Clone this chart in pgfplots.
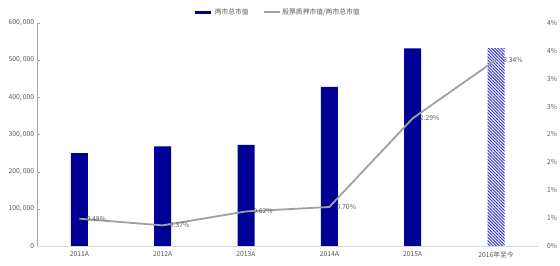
\documentclass[border=0pt]{standalone}
\usepackage{pgfplots}
\pgfplotsset{compat=1.18}
\usepackage{fontspec}
\setmainfont{Noto Sans CJK SC}
\usetikzlibrary{patterns.meta}
\definecolor{navy}{RGB}{0,0,150}
\definecolor{hatch}{RGB}{40,40,210}
\definecolor{lgrey}{RGB}{160,160,160}
\definecolor{txt}{RGB}{89,89,89}
\begin{document}
\begin{tikzpicture}
\pgfplotsset{every axis/.append style={scale only axis, width=500bp, height=223bp, xmin=-0.5, xmax=5.5,
  /pgf/number format/assume math mode=true,
  font=\fontsize{6.8}{7}\selectfont, tick label style={text=txt, font=\fontsize{6.8}{7}\selectfont}}}
\begin{axis}[
 ymin=0, ymax=600000, scaled y ticks=false,
 axis x line*=bottom, axis y line*=left,
 x axis line style={draw=gray!30, line width=0.8pt, -},
 y axis line style={draw=gray!70, -},
 xtick={0,...,5}, xticklabels={2011A,2012A,2013A,2014A,2015A,2016年至今},
 xtick style={draw=none},
 xticklabel style={yshift=-2bp},
 ytick={0,100000,200000,300000,400000,500000,600000},
 yticklabels={0,{100,\,000},{200,\,000},{300,\,000},{400,\,000},{500,\,000},{600,\,000}},
 tick align=inside, ytick style={draw=gray!70}, major tick length=2bp,
]
\addplot[ybar, bar width=17bp, bar shift=0pt, fill=navy, draw=none] coordinates {(0,250000)(1,268000)(2,272000)(3,428000)(4,532000)};
\addplot[ybar, bar width=17bp, bar shift=0pt, draw=none, pattern={Lines[angle=-45,distance=2.2bp,line width=0.9bp]}, pattern color=hatch] coordinates {(5,532000)};
\end{axis}
\begin{axis}[
 ymin=0, ymax=4,
 axis x line=none, axis y line*=right,
 y axis line style={draw=none}, ytick style={draw=none},
 ytick={0,0.5,1,1.5,2,2.5,3,3.5,4},
 yticklabels={0\%,1\%,1\%,2\%,2\%,3\%,3\%,4\%,4\%},
 yticklabel style={anchor=west, xshift=6bp},
 legend style={at={(0.48,1.049)}, anchor=center, draw=none, fill=none, legend columns=2,
   font=\fontsize{6.8}{7}\selectfont, text=txt,
   /tikz/every even column/.append style={column sep=12bp}},
 legend image code/.code={\draw[#1] (0bp,0bp) -- (16bp,0bp);},
]
\addlegendimage{navy, line width=3bp}
\addlegendentry{两市总市值}
\addplot[lgrey, line width=1.8bp, mark=none,
  nodes near coords={\pgfmathprintnumber[fixed,fixed zerofill,precision=2,assume math mode=true]{\pgfplotspointmeta}\%},
  every node near coord/.append style={anchor=west, xshift=3bp, text=txt, font=\fontsize{6.8}{7}\selectfont}]
  coordinates {(0,0.49)(1,0.37)(2,0.62)(3,0.70)(4,2.29)(5,3.34)};
\addlegendentry{股票质押市值/两市总市值}
\end{axis}
\pgfresetboundingbox
\path (-37.7bp,-20bp) rectangle (522.3bp,246bp);
\end{tikzpicture}
\end{document}
